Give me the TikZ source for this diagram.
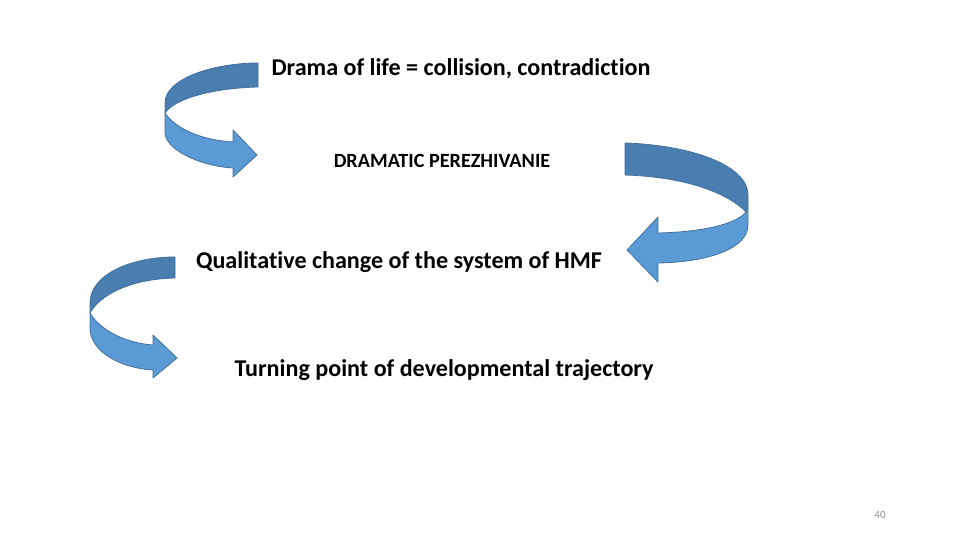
\documentclass[tikz,border=0pt]{standalone}
\usepackage{fontspec}
\setmainfont{Carlito}[Ligatures=NoCommon]
\definecolor{bandDark}{HTML}{4A7EB0}
\definecolor{bandLight}{HTML}{5B9BD5}
\definecolor{bandLine}{HTML}{41719C}
\definecolor{pageGray}{HTML}{8C8C8C}
\tikzset{
  backband/.style={fill=bandDark, draw=bandLine, line width=0.8pt, line join=round},
  frontband/.style={fill=bandLight, draw=bandLine, line width=0.8pt, line join=round},
  bigtext/.style={font=\bfseries\fontsize{24.1}{28}\selectfont, text=black, inner sep=0pt},
  smalltext/.style={font=\bfseries\fontsize{20.2}{23}\selectfont, text=black, inner sep=0pt}
}
\begin{document}
\begin{tikzpicture}[x=1pt,y=-1pt]
\useasboundingbox (0,0) rectangle (960,540);
% arrow 1 (top left)
\path[backband] (258,63) .. controls (215,63) and (165,78) .. (165,103) -- (165,113) .. controls (175,98) and (215,88) .. (258,87) -- cycle;
\path[frontband] (165,113) .. controls (175,128) and (200,140) .. (233,142) -- (233,130) -- (257,155) -- (233,177) -- (233,168) .. controls (200,166) and (166,150) .. (165,133) -- cycle;
% arrow 2 (right)
\path[backband] (625,143) .. controls (690,145) and (748,165) .. (748,195) -- (748,205) -- (746,212) .. controls (730,195) and (690,177) .. (625,175) -- cycle;
\path[frontband] (746,212) .. controls (735,225) and (700,232) .. (658,233) -- (658,217) -- (627,250) -- (658,282) -- (658,263) .. controls (710,262) and (748,248) .. (748,225) -- (748,205) -- cycle;
% arrow 3 (bottom left)
\path[backband] (175,257) .. controls (130,257) and (90,275) .. (90,303) -- (90,313) .. controls (100,295) and (130,279) .. (175,278) -- cycle;
\path[frontband] (90,313) .. controls (100,330) and (125,343) .. (153,345) -- (153,335) -- (177,358) -- (153,378) -- (153,370) .. controls (120,368) and (92,352) .. (90,330) -- cycle;
% texts
\node[bigtext] (drama) at (461,69) {Drama of life = collision, contradiction};
\node[smalltext] (perez) at (442,161) {DRAMATIC PEREZHIVANIE};
\node[bigtext] (qual) at (399,262) {Qualitative change of the system of HMF};
\node[bigtext] (turn) at (444,370) {Turning point of developmental trajectory};
\node[font=\fontsize{11}{13}\selectfont, text=pageGray, inner sep=0pt] (page) at (880,515) {40};
\end{tikzpicture}
\end{document}
